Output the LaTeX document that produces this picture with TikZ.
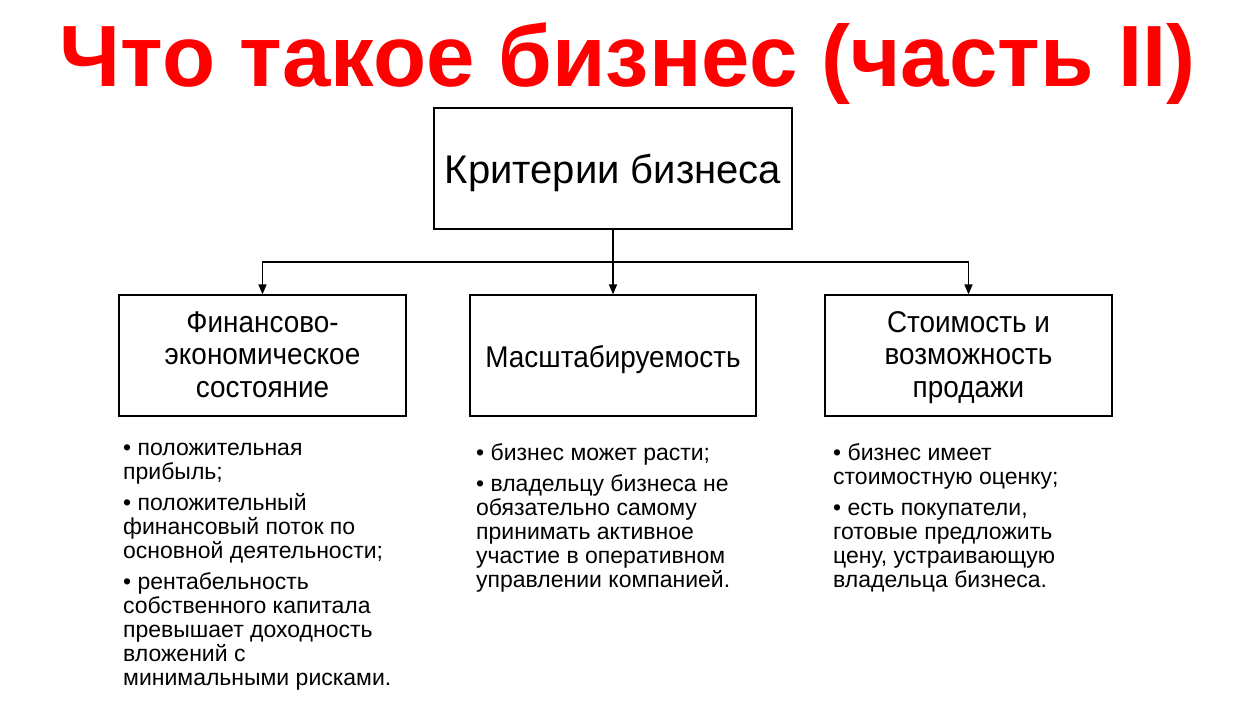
\documentclass[tikz,border=0pt]{standalone}
\usepackage{fontspec}
\setmainfont{Liberation Sans}
\newfontfamily\narrowfont[FakeStretch=0.93]{Liberation Sans}
\usetikzlibrary{arrows.meta}
\newcommand{\boxlines}[1]{\raisebox{-41.8pt}[0pt][0pt]{\begin{tabular}[b]{@{}c@{}}#1\end{tabular}}}
\newcommand{\lowered}[2]{\raisebox{-#1}[0pt][0pt]{#2}}
\begin{document}
\begin{tikzpicture}[x=1pt,y=-1pt,
  box/.style={draw=black, line width=1.2pt, fill=white, minimum height=121pt, inner sep=0pt, align=center},
  smallbox/.style={box, minimum width=287pt, font=\narrowfont\fontsize{30}{32.5}\selectfont},
  conn/.style={line width=1.6pt},
  arr/.style={conn, -{Triangle[length=10pt,width=8pt]}},
  bul/.style={anchor=north west, align=left, inner sep=0pt, font=\fontsize{23}{24}\selectfont}
]
\useasboundingbox (0,0) rectangle (1251,704);
\node[font=\bfseries\fontsize{87}{90}\selectfont, text=red, anchor=base] (title) at (627.5,86) {Что такое бизнес (часть II)};
\node[box, minimum width=358pt, font=\fontsize{40}{42}\selectfont] (top) at (613,168.5) {\lowered{15pt}{Критерии бизнеса}};
\node[smallbox] (left) at (262.5,355.5) {\boxlines{Финансово-\\экономическое\\состояние}};
\node[smallbox, minimum width=286pt] (mid) at (613,355.5) {\lowered{11.5pt}{Масштабируемость}};
\node[smallbox] (right) at (968.5,355.5) {\boxlines{Стоимость и\\возможность\\продажи}};
\coordinate (j) at (613,262);
\draw[conn] (top) -- (j);
\draw[arr] (j) -- (mid);
\draw[arr] (j) -| (left);
\draw[arr] (j) -| (right);
\node[bul] (bl) at (123,443) {• положительная\\прибыль;\\[7pt]• положительный\\финансовый поток по\\основной деятельности;\\[7pt]• рентабельность\\собственного капитала\\превышает доходность\\вложений с\\минимальными рисками.};
\node[bul] (bm) at (476,443) {• бизнес может расти;\\[7pt]• владельцу бизнеса не\\обязательно самому\\принимать активное\\участие в оперативном\\управлении компанией.};
\node[bul] (br) at (833,443) {• бизнес имеет\\стоимостную оценку;\\[7pt]• есть покупатели,\\готовые предложить\\цену, устраивающую\\владельца бизнеса.};
\end{tikzpicture}
\end{document}
